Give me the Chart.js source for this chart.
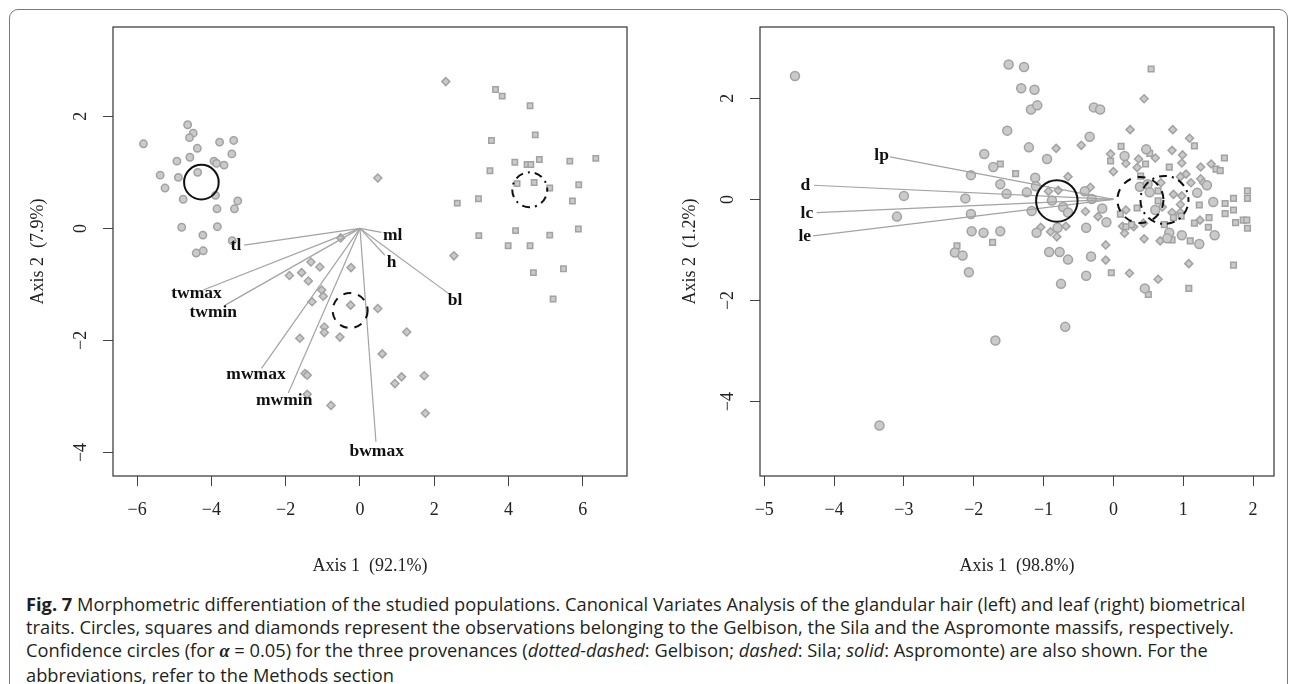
<!DOCTYPE html>
<html lang="en">
<head>
<meta charset="UTF-8">
<title>Fig. 7 Canonical Variates Analysis</title>
<script src="https://cdn.jsdelivr.net/npm/chart.js"></script>
<style>
  html, body { margin: 0; padding: 0; background: #fff; }
  body { width: 1295px; height: 684px; position: relative; overflow: hidden; }
  #frame { position: absolute; left: 9px; top: 9px; width: 1277px; height: 720px;
           border: 1px solid #7a7a7a; border-radius: 9px; }
  #left { position: absolute; left: 0; top: 0; }
  #right { position: absolute; left: 650px; top: 0; }
  #caption { position: absolute; left: 26px; top: 592px; color: #231f20;
             font-family: "Open Sans", sans-serif; font-size: 15.3px; line-height: 23px; }
  #caption .ln { width: max-content; white-space: nowrap; }
  #caption .al { font-family: "Liberation Serif", serif; font-weight: bold; font-style: italic; }
</style>
</head>
<body>
<div id="frame"></div>
<canvas id="left" width="650" height="590"></canvas>
<canvas id="right" width="645" height="590"></canvas>
<div id="caption">
  <div class="ln"><b>Fig. 7</b> Morphometric differentiation of the studied populations. Canonical Variates Analysis of the glandular hair (left) and leaf (right) biometrical</div>
  <div class="ln">traits. Circles, squares and diamonds represent the observations belonging to the Gelbison, the Sila and the Aspromonte massifs, respectively.</div>
  <div class="ln">Confidence circles (for <span class="al">α</span> = 0.05) for the three provenances (<i>dotted-dashed</i>: Gelbison; <i>dashed</i>: Sila; <i>solid</i>: Aspromonte) are also shown. For the</div>
  <div class="ln">abbreviations, refer to the Methods section</div>
</div>
<script>
// ---- glandular hair (left panel) ----
const hairGelbison = [  // circles
  [-5.83,1.51],[-4.64,1.85],[-4.49,1.70],[-4.59,1.62],[-4.38,1.43],[-4.58,1.27],[-4.93,1.20],
  [-3.78,1.54],[-3.40,1.57],[-3.45,1.33],[-3.93,1.20],[-3.86,1.16],[-3.66,1.13],[-5.38,0.95],
  [-4.89,0.91],[-4.37,1.00],[-5.25,0.72],[-3.89,0.59],[-4.76,0.52],[-3.29,0.49],[-3.85,0.35],
  [-3.38,0.35],[-4.80,0.02],[-3.84,0.03],[-4.23,-0.12],[-3.44,-0.22],[-4.41,-0.44],[-4.22,-0.40]
];
const hairSila = [  // squares
  [3.65,2.48],[3.83,2.36],[4.58,2.19],[4.72,1.67],[3.54,1.57],[4.17,1.18],[4.50,1.14],
  [4.60,1.14],[4.83,1.23],[5.65,1.20],[6.35,1.25],[3.50,1.03],[4.69,0.82],[4.23,0.80],
  [5.11,0.72],[5.89,0.78],[5.72,0.49],[3.19,0.53],[2.62,0.45],[3.20,-0.13],[4.19,-0.04],
  [5.11,-0.12],[5.88,-0.01],[3.99,-0.31],[4.58,-0.31],[4.67,-0.79],[5.48,-0.72],[5.20,-1.26]
];
const hairAspromonte = [  // diamonds
  [0.48,0.90],[-0.52,-0.17],[-1.32,-0.60],[-1.08,-0.69],[-1.90,-0.84],[-1.57,-0.79],[-1.39,-0.94],
  [-0.24,-0.70],[-1.03,-1.10],[-0.99,-1.21],[-1.29,-1.31],[-0.25,-1.37],[0.48,-1.43],[1.26,-1.85],
  [-0.96,-1.76],[-0.96,-1.86],[-1.62,-1.96],[-0.54,-1.94],[0.60,-2.24],[-1.48,-2.59],[-1.42,-2.62],
  [1.12,-2.65],[0.94,-2.77],[-1.42,-2.96],[-0.78,-3.16],[2.31,2.62],[2.53,-0.49],[1.73,-2.63],[1.76,-3.30]
];
const hairTraits = ['tl', 'ml', 'h', 'bl', 'twmax', 'twmin', 'mwmax', 'mwmin', 'bwmax'];
const hairTips = [[-3.12,-0.30],[0.58,-0.07],[0.67,-0.48],[2.38,-1.16],[-4.22,-1.10],
                  [-3.63,-1.37],[-2.65,-2.50],[-1.93,-2.94],[0.43,-3.81]];
const hairLabelAt = [[-3.34,-0.30],[0.88,-0.12],[0.85,-0.60],[2.56,-1.28],[-4.40,-1.16],
                     [-3.95,-1.51],[-2.80,-2.61],[-2.04,-3.08],[0.45,-3.98]];
// confidence circles: centre x, centre y, radius (axis 1 units)
const hairConf = { Gelbison: [4.571, 0.689, 0.471], Sila: [-0.264, -1.466, 0.471], Aspromonte: [-4.27, 0.825, 0.466] };
const hairAxis1 = 'Axis 1  (92.1%)';
const hairAxis2 = 'Axis 2  (7.9%)';

// ---- leaf (right panel) ----
const leafGelbison = [
  [-4.56,2.44],[-2.04,0.48],[-3.00,0.07],[-2.12,0.02],[-2.04,-0.29],[-3.10,-0.34],[-2.03,-0.63],
  [-2.27,-1.05],[-2.16,-1.11],[-2.07,-1.44],[-1.69,-2.79],[-3.35,-4.47],
  [-1.50,2.67],[-1.28,2.62],[-1.32,2.20],[-1.13,2.17],[-1.18,1.78],[-1.09,1.86],[-0.28,1.82],
  [-0.19,1.78],[-1.52,1.36],[-0.34,1.24],[-1.21,1.03],[-1.85,0.90],[-0.95,0.80],[-1.72,0.64],
  [-1.12,0.43],[-1.62,0.30],[-1.11,0.26],[-1.53,0.11],[-1.24,0.14],[-0.88,-0.02],[-0.72,-0.15],
  [-0.65,-0.26],[-1.17,-0.23],[-0.41,0.16],[-0.31,0.01],[-0.16,-0.18],[-0.10,-0.45],[-0.39,-0.56],
  [-0.80,-0.56],[-1.10,-0.66],[-1.86,-0.66],[-1.62,-0.63],[-0.92,-1.04],[-0.77,-1.04],[-0.65,-1.19],
  [-0.32,-1.13],[-0.39,-1.51],[-0.75,-1.67],[-0.69,-2.52],[0.16,0.86],[0.47,0.99],[0.38,0.25],
  [0.49,0.30],[0.52,0.14],[0.60,-0.21],[0.80,-0.66],[0.98,-0.71],[1.20,0.13],[1.34,0.28],
  [1.43,-0.05],[1.45,-0.71],[1.23,-0.88],[0.45,-1.76],[0.77,-0.77]
];
const leafSila = [
  [-2.24,-0.92],[0.54,2.58],[-1.62,0.70],[-1.40,0.51],[-1.73,-0.85],[0.11,1.05],[-0.04,0.76],
  [0.46,0.70],[0.52,0.91],[0.80,0.64],[1.16,1.06],[1.59,0.82],[1.47,0.60],[1.53,0.57],[0.39,0.46],
  [0.34,-0.17],[0.10,-0.29],[0.64,-0.03],[0.64,0.17],[0.73,-0.50],[0.86,-0.36],[0.97,-0.33],
  [1.23,-0.11],[1.37,-0.36],[1.16,-0.47],[1.36,-0.55],[0.84,-0.80],[1.10,-0.82],[1.60,-0.08],
  [1.72,0.02],[1.72,-0.21],[1.60,-0.28],[1.75,-0.46],[1.86,-0.41],[1.91,-0.41],[1.92,0.17],
  [1.92,0.02],[1.92,-0.57],[1.72,-1.30],[1.08,-1.76],[0.50,-1.88],[-0.03,-1.45],[0.18,-0.54],[0.26,-0.50]
];
const leafAspromonte = [
  [0.44,1.99],[0.24,1.38],[0.85,1.38],[1.09,1.21],[-0.82,1.01],[-0.46,1.07],[-0.04,0.90],
  [0.18,0.71],[0.36,0.80],[0.60,0.82],[0.84,0.97],[0.99,0.88],[0.98,0.72],[1.40,0.70],[1.25,0.64],
  [0.00,0.55],[0.34,0.63],[-0.65,0.45],[-0.33,0.24],[-0.79,0.18],[-0.93,0.16],[0.96,0.45],
  [1.04,0.50],[1.25,0.41],[1.29,0.33],[1.11,0.33],[0.68,0.33],[0.86,0.10],[0.98,0.07],[0.96,-0.10],
  [0.70,-0.15],[0.18,-0.21],[-0.40,-0.24],[-0.22,-0.34],[0.84,-0.26],[0.96,-0.26],[0.43,-0.47],
  [0.13,-0.53],[0.16,-0.67],[0.29,-0.54],[1.24,-0.41],[-0.68,-0.53],[-1.04,-0.55],[-0.90,-0.64],
  [-0.81,-0.74],[0.44,-0.78],[0.67,-0.82],[-0.11,-0.90],[-0.11,-1.20],[0.23,-1.46],[0.64,-1.58],[1.08,-1.27]
];
const leafTraits = ['lp', 'd', 'lc', 'le'];
const leafTips = [[-3.20,0.84],[-4.29,0.28],[-4.25,-0.26],[-4.30,-0.72]];
const leafLabelAt = [[-3.32,0.875],[-4.41,0.28],[-4.39,-0.28],[-4.42,-0.74]];
const leafConf = { Gelbison: [0.731, -0.01, 0.344], Sila: [0.387, -0.01, 0.33], Aspromonte: [-0.81, -0.03, 0.297] };
const leafAxis1 = 'Axis 1  (98.8%)';
const leafAxis2 = 'Axis 2  (1.2%)';

// line types of the confidence circles
const confDash = { Gelbison: [2, 5, 8, 5], Sila: [8, 7], Aspromonte: [] };

const SERIF = '"Liberation Serif", "Times New Roman", serif';
Chart.defaults.font.family = SERIF;
Chart.defaults.font.size = 18;
Chart.defaults.color = '#222';

const minus = v => (v < 0 ? '\u2212' + Math.abs(v) : String(v));

const extras = {
  id: 'extras',
  afterDatasetsDraw(chart, args, o) {
    const {ctx, chartArea: a, scales: {x, y}} = chart;
    ctx.save();
    // confidence circles
    ctx.strokeStyle = '#111';
    ctx.lineWidth = 2;
    Object.keys(o.conf).forEach(k => {
      const [cx, cy, r] = o.conf[k];
      const px = x.getPixelForValue(cx), py = y.getPixelForValue(cy);
      const pr = x.getPixelForValue(cx + r) - px;
      ctx.setLineDash(confDash[k]);
      ctx.beginPath();
      ctx.arc(px, py, pr, 0, Math.PI * 2);
      ctx.stroke();
    });
    ctx.setLineDash([]);
    // trait labels
    ctx.fillStyle = '#111';
    ctx.font = 'bold 17.5px ' + SERIF;
    ctx.textAlign = 'center';
    ctx.textBaseline = 'middle';
    o.names.forEach((n, i) => {
      ctx.fillText(n, x.getPixelForValue(o.at[i][0]), y.getPixelForValue(o.at[i][1]));
    });
    // box
    ctx.strokeStyle = '#333';
    ctx.lineWidth = 1.2;
    ctx.strokeRect(a.left, a.top, a.right - a.left, a.bottom - a.top);
    // y tick labels, parallel to the axis
    ctx.fillStyle = '#222';
    ctx.font = '18px ' + SERIF;
    y.ticks.forEach(t => {
      ctx.save();
      ctx.translate(a.left - 31.5, y.getPixelForValue(t.value));
      ctx.rotate(-Math.PI / 2);
      ctx.fillText(minus(t.value), 0, 0);
      ctx.restore();
    });
    ctx.restore();
  }
};

function pts(arr) { return arr.map(p => ({x: p[0], y: p[1]})); }

function makeChart(id, cfg) {
  const marker = (data, style, r) => ({
    data: pts(data), pointStyle: style, pointRadius: r,
    backgroundColor: '#cacaca', borderColor: '#a2a2a2', pointBorderWidth: 1.5
  });
  const lines = cfg.tips.map(t => ({
    data: [{x: 0, y: 0}, {x: t[0], y: t[1]}], showLine: true, pointRadius: 0,
    borderColor: '#a3a3a3', borderWidth: 1.2
  }));
  return new Chart(document.getElementById(id), {
    type: 'scatter',
    data: {
      datasets: [...lines,
        marker(cfg.circles, 'circle', cfg.rc),
        marker(cfg.squares, 'rect', cfg.rs),
        marker(cfg.diamonds, 'rectRot', cfg.rd)]
    },
    options: {
      responsive: false, animation: false, events: [],
      layout: {autoPadding: false, padding: {left: 0, top: 27, right: cfg.padRight, bottom: 0}},
      plugins: {legend: {display: false}, tooltip: {enabled: false},
                extras: {conf: cfg.conf, names: cfg.names, at: cfg.at}},
      scales: {
        x: {
          type: 'linear', min: cfg.xr[0], max: cfg.xr[1],
          afterFit: s => { s.height = 114; },
          border: {display: false},
          grid: {drawOnChartArea: false, drawTicks: true, tickLength: 10, color: '#444', lineWidth: 1},
          ticks: {stepSize: cfg.xStep, includeBounds: false, padding: 13, callback: minus, maxRotation: 0},
          title: {display: true, text: cfg.xTitle, padding: {top: 0, bottom: 13}}
        },
        y: {
          type: 'linear', min: cfg.yr[0], max: cfg.yr[1],
          afterFit: s => { s.width = cfg.yWidth; },
          border: {display: false},
          grid: {drawOnChartArea: false, drawTicks: true, tickLength: 10, color: '#444', lineWidth: 1},
          ticks: {stepSize: 2, includeBounds: false, display: false},
          title: {display: true, text: cfg.yTitle, padding: {top: cfg.yTitlePad, bottom: 0}}
        }
      }
    },
    plugins: [extras]
  });
}

makeChart('left', {
  circles: hairGelbison, squares: hairSila, diamonds: hairAspromonte,
  rc: 3.7, rs: 3.8, rd: 4,
  tips: hairTips, names: hairTraits, at: hairLabelAt, conf: hairConf,
  xr: [-6.65, 7.19], yr: [-4.42, 3.595], xStep: 2,
  xTitle: hairAxis1, yTitle: hairAxis2, padRight: 23, yWidth: 113, yTitlePad: 27
});
makeChart('right', {
  circles: leafGelbison, squares: leafSila, diamonds: leafAspromonte,
  rc: 4.5, rs: 4, rd: 4,
  tips: leafTips, names: leafTraits, at: leafLabelAt, conf: leafConf,
  xr: [-5.061, 2.30], yr: [-5.47, 3.41], xStep: 1,
  xTitle: leafAxis1, yTitle: leafAxis2, padRight: 21, yWidth: 110, yTitlePad: 29
});

// fit the caption to the width of the printed lines
const cap = document.getElementById('caption');
const firstLine = cap.querySelector('.ln');
const w = firstLine.getBoundingClientRect().width;
cap.style.fontSize = (15.3 * 1219 / w).toFixed(2) + 'px';
</script>
</body>
</html>
